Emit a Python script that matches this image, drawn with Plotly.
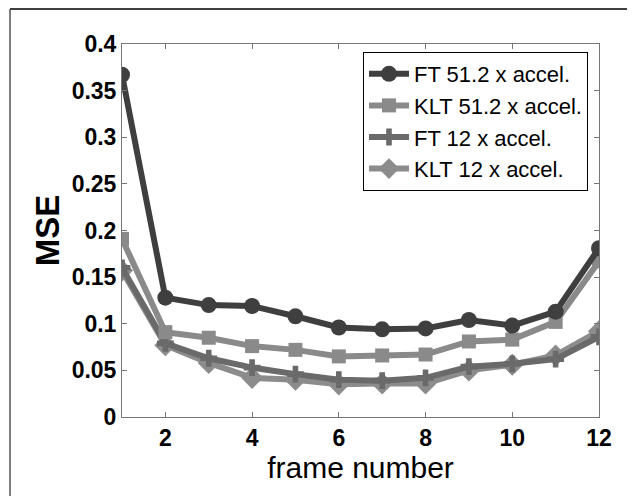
import plotly.graph_objects as go

frames = [1, 2, 3, 4, 5, 6, 7, 8, 9, 10, 11, 12]
ft_512 = [0.367, 0.128, 0.120, 0.119, 0.108, 0.096, 0.094, 0.095, 0.104, 0.098, 0.113, 0.181]
klt_512 = [0.191, 0.091, 0.085, 0.076, 0.072, 0.065, 0.066, 0.067, 0.081, 0.083, 0.102, 0.167]
ft_12 = [0.160, 0.079, 0.063, 0.053, 0.046, 0.040, 0.039, 0.042, 0.054, 0.057, 0.062, 0.086]
klt_12 = [0.157, 0.077, 0.058, 0.042, 0.040, 0.035, 0.036, 0.036, 0.050, 0.056, 0.066, 0.092]

names = ["FT 51.2 x accel.", "KLT 51.2 x accel.", "FT 12 x accel.", "KLT 12 x accel."]
series = [ft_512, klt_512, ft_12, klt_12]
colors = ["#3f3f3f", "#8a8a8a", "#6a6a6a", "#8c8c8c"]
symbols = ["circle", "square", "cross", "diamond"]
sizes = [16, 14, 14, 17]
widths = [6, 6, 6, 6]

fig = go.Figure()
for nm, ys, c, s, sz, w in zip(names, series, colors, symbols, sizes, widths):
    fig.add_trace(go.Scatter(
        x=frames, y=ys, name=nm, mode="lines+markers",
        line=dict(color=c, width=w),
        marker=dict(symbol=s, size=sz, color=c, line=dict(width=0)),
    ))

# draw order: the dark curve on top
fig.data = (fig.data[3], fig.data[2], fig.data[1], fig.data[0])

FONT = "Liberation Sans, Arial, sans-serif"
tickfont = dict(family=FONT, size=23, color="black", weight="bold")

# page has an 8px body margin; figure is sized/offset to compensate
W, H = 627, 488
L, R, T, B = 114, 36, 36, 79
pw, ph = W - L - R, H - T - B

def px(x):
    return (x - 8 - L) / pw

def py(y):
    return (H - B - (y - 8)) / ph

fig.update_layout(
    width=W, height=H,
    margin=dict(l=L, r=R, t=T, b=B),
    paper_bgcolor="white", plot_bgcolor="white",
    showlegend=True,
    legend=dict(
        x=px(588), y=py(52), xanchor="right", yanchor="top",
        bgcolor="white", bordercolor="black", borderwidth=1,
        font=dict(family=FONT, size=22, color="black"),
        traceorder="reversed", tracegroupgap=0, itemwidth=40,
    ),
    xaxis=dict(
        range=[1, 12], tickvals=[2, 4, 6, 8, 10, 12],
        showgrid=False, zeroline=False, showline=True, linecolor="#777777", linewidth=1,
        mirror="ticks", ticks="inside", ticklen=5, tickcolor="#777777",
        tickfont=tickfont,
        title=dict(text="frame number", font=dict(family=FONT, size=30, color="black"), standoff=0),
    ),
    yaxis=dict(
        range=[0, 0.4], tickvals=[0, 0.05, 0.1, 0.15, 0.2, 0.25, 0.3, 0.35, 0.4],
        ticktext=["0", "0.05", "0.1", "0.15", "0.2", "0.25", "0.3", "0.35", "0.4"],
        showgrid=False, zeroline=False, showline=True, linecolor="#777777", linewidth=1,
        mirror="ticks", ticks="inside", ticklen=5, tickcolor="#777777",
        tickfont=tickfont,
        title=dict(text="MSE", font=dict(family=FONT, size=33, color="black", weight="bold"), standoff=2),
    ),
    shapes=[
        dict(type="line", xref="paper", yref="paper",
             x0=px(10), x1=px(630), y0=py(9), y1=py(9),
             line=dict(color="black", width=1.5)),
        dict(type="line", xref="paper", yref="paper",
             x0=px(10), x1=px(10), y0=py(9), y1=py(500),
             line=dict(color="#555555", width=1.5)),
    ],
)

fig.write_html("out.html")
